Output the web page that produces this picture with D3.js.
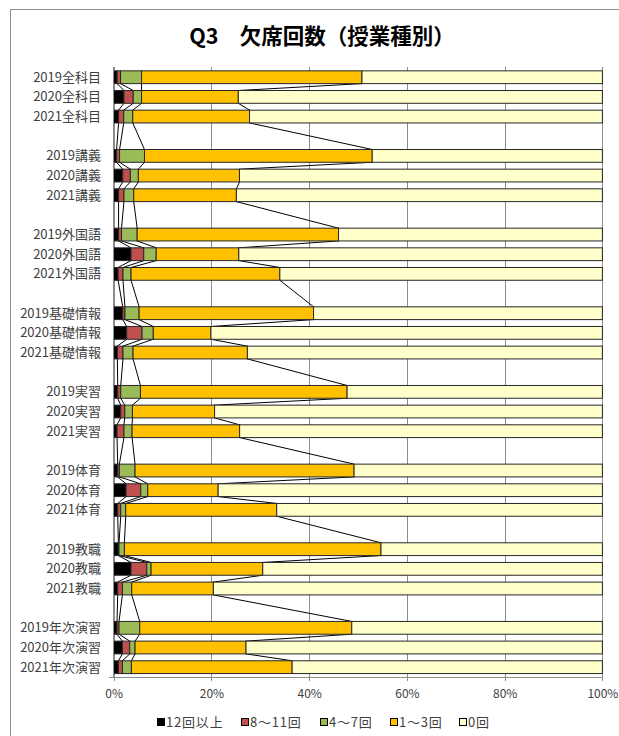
<!DOCTYPE html>
<html><head><meta charset="utf-8">
<script src="https://cdn.jsdelivr.net/npm/d3@7"></script>
<style>body{margin:0;background:#fff}svg{display:block}</style>
</head><body>
<script>
// Categories (null = blank spacer row between groups)
const categories = ["2019全科目","2020全科目","2021全科目",null,
  "2019講義","2020講義","2021講義",null,
  "2019外国語","2020外国語","2021外国語",null,
  "2019基礎情報","2020基礎情報","2021基礎情報",null,
  "2019実習","2020実習","2021実習",null,
  "2019体育","2020体育","2021体育",null,
  "2019教職","2020教職","2021教職",null,
  "2019年次演習","2020年次演習","2021年次演習"];
const seriesNames = ["12回以上","8～11回","4～7回","1～3回","0回"];
const seriesColors = ["#000000","#C0504D","#9BBB59","#FFC000","#FFFFCC"];
// values (%) for the non-blank categories, in order
const v12 = [0.7,2.1,1.0, 0.6,1.85,1.0, 1.0,3.55,0.9, 1.85,2.66,0.75, 0.82,1.44,0.68, 0.82,2.53,0.82, 0.96,3.55,0.82, 0.68,1.78,0.96];
const v8  = [0.7,1.9,1.05, 0.6,1.55,1.1, 0.6,2.6,1.0, 0.45,3.14,1.15, 0.62,0.82,1.42, 0.34,3.0,0.62, 0.13,3.22,0.96, 0.41,1.5,0.82];
const v4  = [4.3,1.7,1.85, 5.1,1.65,2.0, 3.2,2.55,1.65, 2.9,2.3,2.06, 4.03,1.57,1.66, 3.21,1.44,1.02, 1.1,0.88,1.91, 4.24,1.09,1.84];
const v1  = [45.1,19.8,23.9, 46.6,20.7,21.0, 41.2,16.9,30.45, 35.7,11.8,23.4, 42.3,16.8,22.0, 44.8,14.4,30.9, 52.5,22.85,16.7, 43.4,22.7,32.9];
const v0  = [49.2,74.5,72.2, 47.1,74.3,74.9, 54.0,74.4,66.0, 59.1,80.1,72.65, 52.25,79.3,74.2, 50.8,78.6,66.65, 45.3,69.5,79.6, 51.3,72.9,63.5];
const tickValues = [0,0.2,0.4,0.6,0.8,1.0];
const titleText = "Q3　欠席回数（授業種別）";

const W = 619, H = 736;
const svg = d3.select("body").append("svg").attr("width",W).attr("height",H);
const font = "'Noto Sans CJK JP','Noto Sans',sans-serif";

// chart area border
svg.append("rect").attr("x",10.5).attr("y",9.5).attr("width",700).attr("height",800)
  .attr("fill","#fff").attr("stroke","#8c8c8c").attr("stroke-width",1);

svg.append("text").attr("x",322).attr("y",44).attr("text-anchor","middle")
  .attr("font-family",font).attr("font-weight","bold").attr("font-size",21.5)
  .attr("fill","#000").text(titleText);

// build rows
const cols = [v12,v8,v4,v1,v0];
let k = 0;
const rows = categories.map((c,i) => {
  if (c === null) return {idx:i, name:null};
  const r = {idx:i, name:c};
  seriesNames.forEach((s,j) => r[s] = cols[j][k]);
  k++;
  return r;
});
const dataRows = rows.filter(r => r.name !== null);

const x = d3.scaleLinear().domain([0,1]).range([113.7,602.4]);
const y = d3.scaleBand().domain(rows.map(r=>r.idx)).range([67.4,677]).paddingInner(0.35).paddingOuter(0.175);

// gridlines
const g = svg.append("g");
g.selectAll("line.grid").data(tickValues).join("line")
  .attr("x1",d=>Math.round(x(d))+0.5).attr("x2",d=>Math.round(x(d))+0.5)
  .attr("y1",67).attr("y2",681).attr("stroke","#8c8c8c").attr("stroke-width",1);

// stacked bars
const stack = d3.stack().keys(seriesNames).offset(d3.stackOffsetExpand);
const stacked = stack(dataRows);
const bw = y.bandwidth();

// series lines
const lineG = svg.append("g");
for (let s = 0; s < stacked.length - 1; s++) {
  const layer = stacked[s];
  for (let i = 0; i < layer.length - 1; i++) {
    const a = layer[i], b = layer[i+1];
    lineG.append("line")
      .attr("x1",x(a[1])).attr("y1",y(a.data.idx)+bw)
      .attr("x2",x(b[1])).attr("y2",y(b.data.idx))
      .attr("stroke","#000").attr("stroke-width",1);
  }
}

stacked.forEach((layer,si) => {
  svg.append("g").selectAll("rect").data(layer).join("rect")
    .attr("x",d=>x(d[0])).attr("width",d=>x(d[1])-x(d[0]))
    .attr("y",d=>y(d.data.idx)).attr("height",bw)
    .attr("fill",seriesColors[si]).attr("stroke","#262626").attr("stroke-width",1);
});

// axes lines
svg.append("line").attr("x1",113.5).attr("x2",113.5).attr("y1",67).attr("y2",677)
  .attr("stroke","#8c8c8c");
svg.append("line").attr("x1",109).attr("x2",603).attr("y1",677.5).attr("y2",677.5)
  .attr("stroke","#8c8c8c");

// category labels
svg.append("g").selectAll("text").data(dataRows).join("text")
  .attr("x",101).attr("y",d=>y(d.idx)+bw/2).attr("dy","0.35em")
  .attr("text-anchor","end").attr("font-family",font).attr("font-size",13)
  .attr("fill","#404040").text(d=>d.name);

// x axis labels
const ax = svg.append("g").attr("transform","translate(0,680)")
  .call(d3.axisBottom(x).tickValues(tickValues).tickFormat(d3.format(".0%")).tickSize(0).tickPadding(9));
ax.select(".domain").remove();
ax.selectAll("text").attr("font-family",font).attr("font-size",12).attr("fill","#404040");

// legend
const legX = [157,241,320,390,459];
const leg = svg.append("g");
seriesNames.forEach((s,i) => {
  leg.append("rect").attr("x",legX[i]+0.5).attr("y",718.5).attr("width",7).attr("height",7)
    .attr("fill",seriesColors[i]).attr("stroke","#000");
  leg.append("text").attr("x",legX[i]+9).attr("y",722).attr("dy","0.36em")
    .attr("font-family",font).attr("font-size",13).attr("letter-spacing",0.8).attr("fill","#404040").text(s);
});
</script>
</body></html>
